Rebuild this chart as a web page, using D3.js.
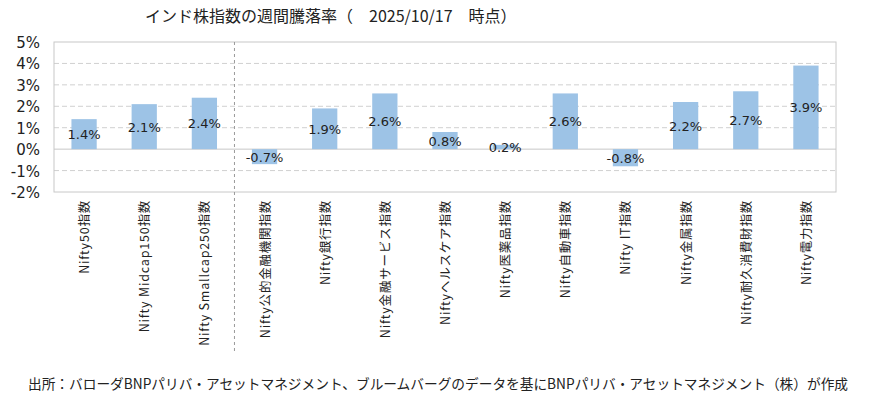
<!DOCTYPE html>
<html><head><meta charset="utf-8">
<script src="https://cdn.jsdelivr.net/npm/d3@7"></script>
<style>body{margin:0;background:#fff;font-family:"Noto Sans CJK JP","DejaVu Sans",sans-serif;}</style>
</head><body><svg width="878" height="402"></svg>
<script>
// データ
var categories = ["Nifty50指数","Nifty Midcap150指数","Nifty Smallcap250指数","Nifty公的金融機関指数",
  "Nifty銀行指数","Nifty金融サービス指数","Niftyヘルスケア指数","Nifty医薬品指数","Nifty自動車指数",
  "Nifty IT指数","Nifty金属指数","Nifty耐久消費財指数","Nifty電力指数"];
var values = [1.4, 2.1, 2.4, -0.7, 1.9, 2.6, 0.8, 0.2, 2.6, -0.8, 2.2, 2.7, 3.9];
var yTicks = [-2, -1, 0, 1, 2, 3, 4, 5];

(function(){
var svg = d3.select("svg");
var pLeft = 54, pRight = 836, pTop = 42, pBottom = 192;

var x = d3.scaleBand().domain(categories).range([pLeft, pRight]).paddingInner(0.58).paddingOuter(0.29);
var y = d3.scaleLinear().domain([-2, 5]).range([pBottom, pTop]);

// グリッド
svg.append("g").selectAll("line").data(yTicks.filter(function(d){ return d > -2 && d < 5 && d != 0; }))
  .enter().append("line")
  .attr("x1", pLeft).attr("x2", pRight)
  .attr("y1", function(d){ return y(d); }).attr("y2", function(d){ return y(d); })
  .attr("stroke", "#d0d0d0").attr("stroke-dasharray", "5,3");

svg.append("rect").attr("x", pLeft).attr("y", pTop).attr("width", pRight - pLeft).attr("height", pBottom - pTop)
  .attr("fill", "none").attr("stroke", "#c8c8c8");

svg.append("line").attr("x1", pLeft).attr("x2", pRight).attr("y1", y(0)).attr("y2", y(0))
  .attr("stroke", "#c8c8c8");

// 区切り線
var sepX = (x(categories[2]) + x.bandwidth() + x(categories[3])) / 2;
svg.append("line").attr("x1", sepX).attr("x2", sepX).attr("y1", pTop).attr("y2", 352)
  .attr("stroke", "#999").attr("stroke-dasharray", "3,3");

// 棒
svg.selectAll(".bar").data(values).enter().append("rect")
  .attr("x", function(d, i){ return x(categories[i]); })
  .attr("y", function(d){ return y(Math.max(0, d)); })
  .attr("width", x.bandwidth())
  .attr("height", function(d){ return Math.abs(y(d) - y(0)); })
  .attr("fill", "#9dc3e6");

// ラベル
svg.selectAll(".lbl").data(values).enter().append("text")
  .attr("x", function(d, i){ return x(categories[i]) + x.bandwidth() / 2; })
  .attr("y", function(d){ return (y(d) + y(0)) / 2 + 5; })
  .attr("text-anchor", "middle").attr("font-size", "13px")
  .attr("font-family", "Verdana, 'DejaVu Sans', sans-serif").attr("fill", "#222")
  .text(function(d){ return d.toFixed(1) + "%"; });

// Y軸
svg.selectAll(".yt").data(yTicks).enter().append("text")
  .attr("x", 40).attr("y", function(d){ return y(d) + 6; })
  .attr("text-anchor", "end").attr("font-size", "15px")
  .attr("font-family", "Verdana, 'DejaVu Sans', sans-serif").attr("fill", "#222")
  .text(function(d){ return d + "%"; });

// X軸ラベル
svg.selectAll(".xt").data(categories).enter().append("text")
  .attr("transform", function(d){ return "translate(" + (x(d) + x.bandwidth() / 2 + 5) + ",200) rotate(-90)"; })
  .attr("text-anchor", "end").attr("font-size", "12.5px").attr("letter-spacing", "0.8px").attr("fill", "#222")
  .text(function(d){ return d; });

// タイトル
svg.append("text").attr("x", 145).attr("y", 22).attr("font-size", "16px").attr("fill", "#222")
  .text("インド株指数の週間騰落率（　2025/10/17　時点）");

svg.append("text").attr("x", 28).attr("y", 389).attr("font-size", "14px").attr("fill", "#222")
  .attr("textLength", 820).attr("lengthAdjust", "spacingAndGlyphs")
  .text("出所：バローダBNPパリバ・アセットマネジメント、ブルームバーグのデータを基にBNPパリバ・アセットマネジメント（株）が作成");
})();
</script></body></html>
